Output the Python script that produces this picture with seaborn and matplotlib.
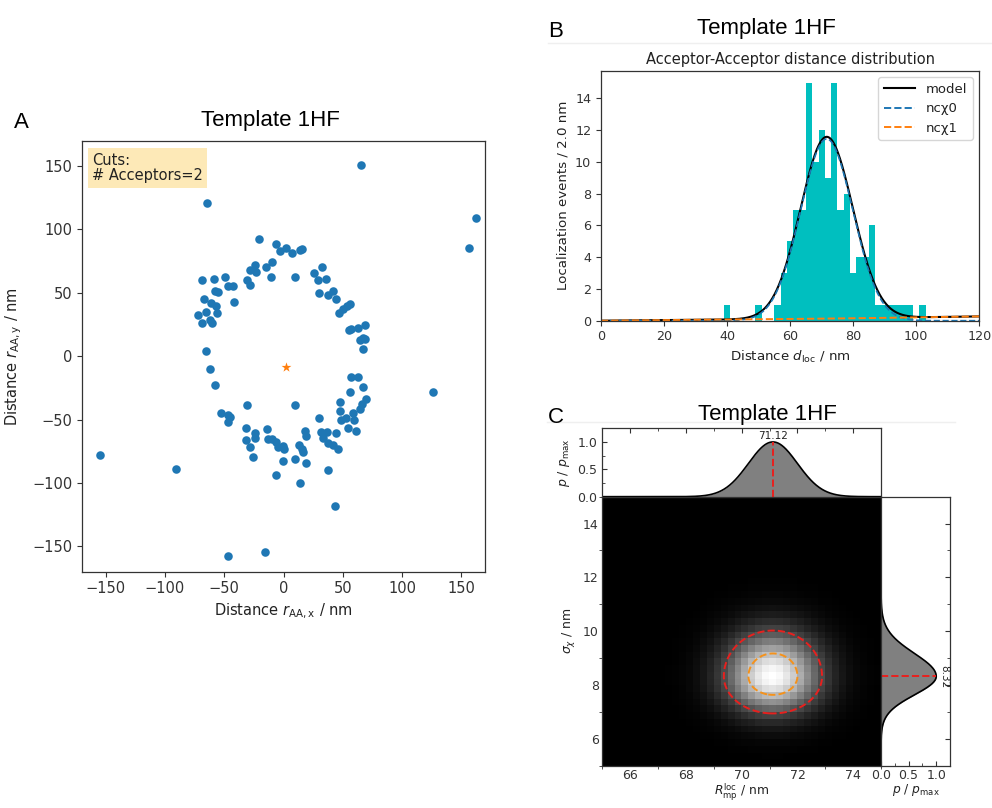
import numpy as np
import pandas as pd
import matplotlib
matplotlib.use("Agg")
import matplotlib.pyplot as plt
from matplotlib.ticker import MultipleLocator
from matplotlib.lines import Line2D
from matplotlib.colors import PowerNorm
import seaborn as sns

# ---------------- data ----------------
# Panel A: acceptor-acceptor distance vectors (nm)
aa_vectors = [
    # isolated events
    (65.7, 150.5), (-64.8, 120.9), (162.1, 109.1), (156.2, 85.2), (126.2, -28.3),
    (-154.5, -77.9), (-90.8, -88.9), (43.7, -118.0), (-46.5, -157.6), (-15.9, -154.2),
    # upper / left arc
    (-20.9, 92.6), (-6.0, 88.6), (-2.6, 82.6), (2.4, 85.2), (6.9, 81.3), (13.7, 83.9),
    (15.6, 84.4), (-9.4, 74.5), (-14.4, 70.3), (-10.8, 62.2), (9.7, 62.2), (-23.7, 72.1),
    (-28.5, 68.2), (-22.9, 66.4), (-30.8, 59.8), (-28.0, 55.9), (-49.6, 62.4), (-46.7, 55.6),
    (-42.5, 55.1), (-42.0, 43.0), (-58.6, 60.8), (-69.0, 59.8), (-67.3, 44.8), (-58.0, 51.1),
    (-55.2, 50.6), (-61.2, 41.7), (-56.6, 39.3), (-55.8, 34.1), (-65.1, 34.9), (-72.4, 32.8),
    (-62.2, 28.3), (-68.7, 26.5), (-60.0, 26.5), (-65.1, 4.2), (-61.7, -10.0), (-58.0, -23.1),
    # upper right arc
    (32.5, 70.3), (26.0, 65.6), (29.1, 59.8), (36.2, 60.6), (29.7, 50.1), (37.6, 48.5),
    (41.8, 51.4), (44.6, 44.8), (46.9, 34.1), (50.2, 37.0), (53.6, 39.3), (56.4, 41.2),
    (55.0, 20.5), (57.3, 21.5), (62.9, 22.3), (68.5, 24.4), (64.3, 12.6), (67.1, 14.7),
    (69.0, 13.9), (67.1, 6.0),
    # lower right arc
    (57.3, -16.8), (62.9, -16.8), (67.1, -24.4), (56.4, -28.3), (69.3, -34.1), (66.5, -37.8),
    (64.8, -41.7), (47.9, -36.2), (47.9, -43.5), (29.7, -48.8), (48.8, -50.4), (53.1, -49.0),
    (58.7, -45.1), (59.2, -50.4), (54.4, -56.9), (60.9, -59.0), (44.6, -60.3), (31.9, -59.8),
    (37.0, -59.8), (33.4, -64.8), (37.6, -68.2), (41.8, -70.0), (46.0, -73.2), (37.6, -89.7),
    # lower arc
    (-30.5, -38.8), (9.7, -38.3), (-52.9, -44.6), (-46.7, -46.4), (-45.3, -47.7), (-47.2, -51.9),
    (-31.9, -56.4), (-23.7, -60.3), (-24.3, -64.3), (-31.9, -66.1), (-28.3, -71.3), (-25.5, -79.7),
    (-13.6, -57.2), (-12.8, -65.3), (-9.4, -65.3), (-6.0, -67.4), (-4.6, -71.3), (-0.4, -70.5),
    (0.2, -73.4), (-0.4, -82.6), (-6.0, -93.6), (12.8, -70.0), (15.4, -73.2), (16.5, -75.3),
    (9.4, -81.0), (18.7, -84.4), (17.9, -59.0), (18.7, -62.9), (13.7, -100.2),
]
centroid_x = [2.4]
centroid_y = [-8.4]

# Panel B: localization events per 2 nm bin
bin_edges = list(range(39, 105, 2))
bin_counts = [1, 0, 0, 0, 0, 1, 0, 0, 1, 3, 5, 7, 7, 15, 10, 12,
              9, 15, 7, 8, 3, 4, 4, 6, 1, 1, 1, 1, 1, 1, 0, 1]
# fitted model: noncentral chi (2D) component + broad background component
nc0_events = 119
bg_d = [0, 40, 80, 120]
bg_level = [0.0, 0.07, 0.15, 0.27]

# Panel C: posterior of ring radius and width
r_mode = 71.12
sigma_mode = 8.32
r_spread = 0.88
sigma_spread_low = 0.69
sigma_spread_high = 0.85

# ---------------- style ----------------
plt.rcParams["font.family"] = ["DejaVu Sans"]
plt.rcParams["axes.linewidth"] = 0.9
plt.rcParams["axes.edgecolor"] = "#333333"
plt.rcParams["xtick.color"] = "#333333"
plt.rcParams["ytick.color"] = "#333333"
plt.rcParams["text.color"] = "#222222"
plt.rcParams["axes.labelcolor"] = "#222222"

fig = plt.figure(figsize=(9.92, 8.08), dpi=100)
title_font = dict(family="Liberation Sans", fontsize=16, color="black")

# ---------------- Panel A ----------------
axA = fig.add_axes([0.0827, 0.2925, 0.4062, 0.5334])
dfA = pd.DataFrame(aa_vectors, columns=["x", "y"])
sns.scatterplot(data=dfA, x="x", y="y", ax=axA, color="#1f77b4", s=38, linewidth=0)
sns.scatterplot(x=centroid_x, y=centroid_y, ax=axA, color="#ff7f0e", marker="*", s=55, linewidth=0)
axA.set_xlim(-170, 170)
axA.set_ylim(-170, 170)
axA.set_xticks([-150, -100, -50, 0, 50, 100, 150])
axA.set_yticks([-150, -100, -50, 0, 50, 100, 150])
axA.tick_params(labelsize=10.5)
axA.set_xlabel(r"Distance $r_{\mathrm{AA,x}}$ / nm", fontsize=10.5)
axA.set_ylabel(r"Distance $r_{\mathrm{AA,y}}$ / nm", fontsize=10.5, labelpad=6)
axA.text(0.025, 0.972, "Cuts:\n# Acceptors=2", transform=axA.transAxes, fontsize=10.5,
         va="top", ha="left", linespacing=1.05,
         bbox=dict(boxstyle="square,pad=0.3", fc="#fde9b7", ec="none"))
fig.text(0.014, 0.8416, "A", ha="left", va="baseline", **title_font)
fig.text(0.273, 0.844, "Template 1HF", ha="center", va="baseline", **title_font)

# ---------------- Panel B ----------------
axB = fig.add_axes([0.6058, 0.6031, 0.3814, 0.3094])
centers = [e + 1 for e in bin_edges[:-1]]
sns.histplot(x=centers, weights=bin_counts, bins=bin_edges, ax=axB, color="c",
             alpha=1.0, linewidth=0, edgecolor="none")

d = np.linspace(0, 120, 1201)
s2 = sigma_mode ** 2
rice = d / s2 * np.exp(-(d ** 2 + r_mode ** 2) / (2 * s2)) * np.i0(d * r_mode / s2)
nc0 = nc0_events * 2.0 * rice
nc1 = np.interp(d, bg_d, bg_level)
model = nc0 + nc1

sns.lineplot(x=d, y=model, ax=axB, color="black", lw=1.5, estimator=None)
sns.lineplot(x=d, y=nc0, ax=axB, color="#1f77b4", linestyle="--", lw=1.2, estimator=None)
sns.lineplot(x=d, y=nc1, ax=axB, color="#ff7f0e", linestyle="--", lw=1.4, estimator=None)
axB.set_xlim(0, 120)
axB.set_ylim(0, 15.75)
axB.set_yticks([0, 2, 4, 6, 8, 10, 12, 14])
axB.tick_params(labelsize=9.2)
axB.set_xlabel(r"Distance $d_{\mathrm{loc}}$ / nm", fontsize=9.6)
axB.set_ylabel("Localization events / 2.0 nm", fontsize=9.6)
axB.set_title("Acceptor-Acceptor distance distribution", fontsize=10.5, pad=5)
handles = [Line2D([], [], color="black", lw=1.5),
           Line2D([], [], color="#1f77b4", ls="--", lw=1.4),
           Line2D([], [], color="#ff7f0e", ls="--", lw=1.4)]
axB.legend(handles, ["model", "ncχ0", "ncχ1"], loc="upper right", fontsize=9.5,
           handlelength=2.4)
fig.text(0.5524, 0.954, "B", ha="left", va="baseline", **title_font)
fig.text(0.7729, 0.958, "Template 1HF", ha="center", va="baseline", **title_font)
fig.add_artist(Line2D([0.552, 1.0], [0.9464, 0.9464], transform=fig.transFigure,
                      color="#efefef", lw=1))

# ---------------- Panel C ----------------
def r_profile(r):
    return np.exp(-(r - r_mode) ** 2 / (2 * r_spread ** 2))


def sigma_profile(s):
    w = np.where(s < sigma_mode, sigma_spread_low, sigma_spread_high)
    return np.exp(-(s - sigma_mode) ** 2 / (2 * w ** 2))


axC = fig.add_axes([0.6072, 0.0525, 0.2810, 0.3328])
axTop = fig.add_axes([0.6072, 0.3853, 0.2810, 0.0847], sharex=axC)
axRight = fig.add_axes([0.8881, 0.0525, 0.0696, 0.3328], sharey=axC)

# pixelated posterior image
r_pix = np.linspace(65.125, 74.875, 40)
s_pix = np.linspace(5.125, 14.875, 40)
post_pix = np.outer(sigma_profile(s_pix), r_profile(r_pix))
axC.imshow(post_pix, extent=[65, 75, 5, 15], origin="lower", cmap="gray",
           interpolation="nearest", aspect="auto",
           norm=PowerNorm(gamma=0.6, vmin=0, vmax=post_pix.max()))

# credible-region contours on a fine grid
r_fine = np.linspace(65, 75, 500)
s_fine = np.linspace(5, 15, 500)
post_fine = np.outer(sigma_profile(s_fine), r_profile(r_fine))
flat = np.sort(post_fine.ravel())[::-1]
cum = np.cumsum(flat) / flat.sum()
lev_inner = flat[np.searchsorted(cum, 0.393)]
lev_outer = flat[np.searchsorted(cum, 0.865)]
axC.contour(r_fine, s_fine, post_fine, levels=[lev_outer], colors="#e8201e",
            linestyles="--", linewidths=1.4)
axC.contour(r_fine, s_fine, post_fine, levels=[lev_inner], colors="#f5921b",
            linestyles="--", linewidths=1.4)
axC.set_xlim(65, 75)
axC.set_ylim(5, 15)
axC.set_xticks([66, 68, 70, 72, 74])
axC.set_yticks([6, 8, 10, 12, 14])
axC.tick_params(direction="in", labelsize=9, color="black", pad=2.5)
axC.set_xlabel(r"$R_{\mathrm{mp}}^{\mathrm{loc}}$ / nm", fontsize=8.8, labelpad=0)
axC.set_ylabel(r"$\sigma_{\chi}$ / nm", fontsize=9)

# top marginal: radius
pr = r_profile(r_fine)
axTop.fill_between(r_fine, 0, pr, color="#808080", lw=0)
sns.lineplot(x=r_fine, y=pr, ax=axTop, color="black", lw=1.2, estimator=None)
axTop.plot([r_mode, r_mode], [0, 1], color="#e8201e", ls="--", lw=1.4)
axTop.text(r_mode, 1.01, f"{r_mode:.2f}", ha="center", va="bottom", fontsize=7.5)
axTop.set_ylim(0, 1.25)
axTop.set_yticks([0.0, 0.5, 1.0])
axTop.yaxis.set_minor_locator(MultipleLocator(0.25))
axTop.xaxis.set_minor_locator(MultipleLocator(1))
axTop.tick_params(axis="x", which="both", bottom=False, top=True, labelbottom=False,
                  direction="in")
axTop.tick_params(axis="y", which="both", direction="in", labelsize=9)
axTop.set_ylabel(r"$p$ / $p_{\mathrm{max}}$", fontsize=9)
axTop.set_xlabel("")

# right marginal: width
ps = sigma_profile(s_fine)
axRight.fill_betweenx(s_fine, 0, ps, color="#808080", lw=0)
sns.lineplot(x=ps, y=s_fine, ax=axRight, color="black", lw=1.2, estimator=None,
             sort=False, orient="y")
axRight.plot([0, 1], [sigma_mode, sigma_mode], color="#e8201e", ls="--", lw=1.4)
axRight.text(1.05, sigma_mode, f"{sigma_mode:.2f}", ha="left", va="center",
             rotation=-90, fontsize=7.5)
axRight.set_xlim(0, 1.25)
axRight.set_xticks([0.0, 0.5, 1.0])
axRight.xaxis.set_minor_locator(MultipleLocator(0.25))
axRight.yaxis.set_minor_locator(MultipleLocator(1))
axRight.tick_params(axis="y", which="both", left=False, right=True, labelleft=False,
                    direction="in")
axRight.tick_params(axis="x", which="both", direction="in", labelsize=9, pad=2.5)
axRight.set_xlabel(r"$p$ / $p_{\mathrm{max}}$", fontsize=8.8, labelpad=0)
axRight.set_ylabel("")

fig.text(0.5524, 0.4765, "C", ha="left", va="baseline", **title_font)
fig.text(0.7737, 0.480, "Template 1HF", ha="center", va="baseline", **title_font)
fig.add_artist(Line2D([0.551, 0.963], [0.478, 0.478], transform=fig.transFigure,
                      color="#efefef", lw=1))

fig.savefig("out.png", dpi=100)
